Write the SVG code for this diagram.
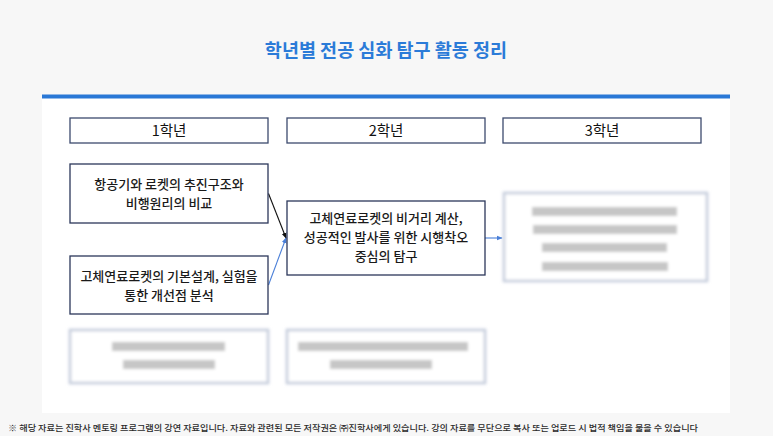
<svg xmlns="http://www.w3.org/2000/svg" width="773" height="436" viewBox="0 0 773 436">
<style>
text{font-family:"Noto Sans CJK KR","Noto Sans",sans-serif;}
.title{font-size:18.5px;font-weight:700;fill:#2b7bd8;text-anchor:middle;}
.hdr rect{fill:#fff;stroke:#3c4a6e;stroke-width:1.3;}
.hdr text{font-size:14.5px;fill:#111;text-anchor:middle;}
.node rect{fill:#fff;stroke:#2c375a;stroke-width:1.3;}
.node text{font-size:13px;font-weight:500;fill:#1a1a1a;text-anchor:middle;}
.blur rect.box{fill:#fff;stroke:#c3cbdb;stroke-width:2.5;}
.blur rect.ln{fill:#777;opacity:0.42;}
.foot{font-size:8.5px;fill:#2a2a2a;font-weight:500;}
</style>
<defs>
<filter id="bl" x="-10%" y="-10%" width="120%" height="120%"><feGaussianBlur stdDeviation="1.7"/></filter>
<marker id="ab" viewBox="0 0 8 8" refX="7" refY="4" markerWidth="6" markerHeight="6" orient="auto" markerUnits="userSpaceOnUse"><path d="M0,0.8 L8,4 L0,7.2 z" fill="#111"/></marker>
<marker id="au" viewBox="0 0 8 8" refX="7" refY="4" markerWidth="6" markerHeight="6" orient="auto" markerUnits="userSpaceOnUse"><path d="M0,0.8 L8,4 L0,7.2 z" fill="#4a7fd8"/></marker>
</defs>
<rect width="773" height="436" fill="#f7f7f7"/>
<rect x="42" y="95" width="688" height="318" fill="#fff"/>
<rect x="42" y="94.5" width="688" height="4" fill="#2a78d6"/>
<text class="title" x="386" y="57">학년별 전공 심화 탐구 활동 정리</text>

<g id="hdr1" class="hdr"><rect x="70" y="118" width="198" height="25"/><text x="169" y="136">1학년</text></g>
<g id="hdr2" class="hdr"><rect x="287" y="118" width="198" height="25"/><text x="386" y="136">2학년</text></g>
<g id="hdr3" class="hdr"><rect x="503" y="118" width="198" height="25"/><text x="602" y="136">3학년</text></g>

<g id="connectors">
<line x1="268.5" y1="193.5" x2="286" y2="238" stroke="#111" stroke-width="1.1" marker-end="url(#ab)"/>
<line x1="268.5" y1="285" x2="286" y2="238" stroke="#4a7fd8" stroke-width="1.1" marker-end="url(#au)"/>
<line x1="485" y1="238" x2="502" y2="238" stroke="#4a7fd8" stroke-width="1.1" marker-end="url(#au)"/>
<line x1="268" y1="357" x2="286" y2="357" stroke="#7d9fd8" stroke-width="1.5" filter="url(#bl)"/>
</g>

<g id="nodeA" class="node"><rect x="70" y="164" width="198" height="59"/>
<text x="169" y="189">항공기와 로켓의 추진구조와</text><text x="169" y="208">비행원리의 비교</text></g>
<g id="nodeB" class="node"><rect x="70" y="256" width="198" height="58"/>
<text x="169" y="281">고체연료로켓의 기본설계, 실험을</text><text x="169" y="300">통한 개선점 분석</text></g>
<g id="nodeC" class="node"><rect x="287" y="201" width="198" height="74"/>
<text x="386" y="223">고체연료로켓의 비거리 계산,</text><text x="386" y="242">성공적인 발사를 위한 시행착오</text><text x="386" y="261">중심의 탐구</text></g>

<g id="nodeD" class="blur" filter="url(#bl)"><rect class="box" x="504" y="193" width="203" height="88"/>
<rect class="ln" x="532" y="207" width="145" height="9"/><rect class="ln" x="533" y="225" width="144" height="9"/><rect class="ln" x="542" y="243" width="125" height="9"/><rect class="ln" x="542" y="262" width="126" height="9"/></g>
<g id="nodeE" class="blur" filter="url(#bl)"><rect class="box" x="70" y="330" width="198" height="53"/>
<rect class="ln" x="112" y="342" width="113" height="9"/><rect class="ln" x="123" y="360" width="92" height="9"/></g>
<g id="nodeF" class="blur" filter="url(#bl)"><rect class="box" x="287" y="330" width="198" height="53"/>
<rect class="ln" x="298" y="342" width="170" height="9"/><rect class="ln" x="330" y="360" width="102" height="9"/></g>

<text class="foot" x="8" y="431" textLength="690" lengthAdjust="spacingAndGlyphs">※ 해당 자료는 진학사 멘토링 프로그램의 강연 자료입니다. 자료와 관련된 모든 저작권은 ㈜진학사에게 있습니다. 강의 자료를 무단으로 복사 또는 업로드 시 법적 책임을 물을 수 있습니다</text>
</svg>
